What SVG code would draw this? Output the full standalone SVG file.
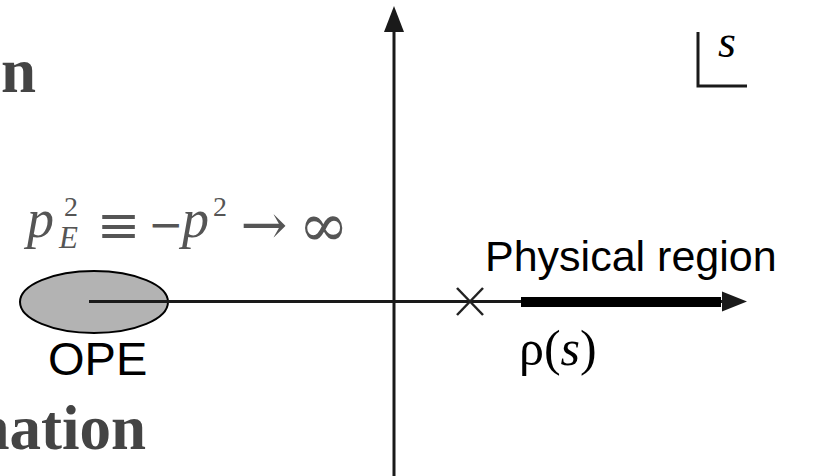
<svg xmlns="http://www.w3.org/2000/svg" width="825" height="476" viewBox="0 0 825 476">
<defs>
<style>
.ax{stroke:#1a1a1a;stroke-width:3;fill:none}
.hd{fill:#1a1a1a;stroke:none}
.ttl{font-family:"Liberation Serif",serif;font-weight:bold;fill:#444;font-size:63px}
.sans{font-family:"Liberation Sans",Arial,sans-serif;fill:#000}
.ser{font-family:"Liberation Serif","Times New Roman",serif;fill:#000}
.math{font-family:"Liberation Serif","DejaVu Serif",serif;fill:#555}
.sym{font-family:"DejaVu Serif",serif;fill:#555}
</style>
</defs>
<rect width="825" height="476" fill="#fff"/>
<g id="title-fragments">
<text class="ttl" x="1" y="92">n</text>
<text class="ttl" x="146" y="449" text-anchor="end">nation</text>
</g>
<g id="ope">
<ellipse cx="94" cy="302" rx="74" ry="31" fill="#b3b3b3" stroke="#000" stroke-width="2"/>
<text class="sans" x="48" y="375" font-size="47">OPE</text>
</g>
<g id="connectors">
<line class="ax" x1="394" y1="476" x2="394" y2="28"/>
<polygon class="hd" points="394,6 384,32 404,32"/>
<line class="ax" x1="89" y1="301.5" x2="724" y2="301.5"/>
<polygon class="hd" points="722,291.5 747,301.5 722,311.5"/>
</g>
<g id="physical-region">
<rect x="521" y="297" width="200" height="10" fill="#000"/>
<text class="sans" x="485" y="270.5" font-size="43">Physical region</text>
<text class="ser" x="519" y="365" font-size="50">ρ(<tspan font-style="italic">s</tspan>)</text>
</g>
<g id="pole">
<line x1="457" y1="288" x2="483" y2="315" stroke="#222" stroke-width="2.5"/>
<line x1="457" y1="315" x2="483" y2="288" stroke="#222" stroke-width="2.5"/>
</g>
<g id="formula">
<text class="math" x="27" y="237" font-size="54" font-style="italic">p</text>
<text class="math" x="64" y="216" font-size="28">2</text>
<text class="math" x="59" y="248" font-size="31" font-style="italic">E</text>
<text class="sym" x="118.5" y="242.5" font-size="52" text-anchor="middle">≡</text>
<text class="sym" x="165.5" y="239" font-size="42" text-anchor="middle">−</text>
<text class="math" x="182" y="237" font-size="54" font-style="italic">p</text>
<text class="math" x="213" y="216" font-size="28">2</text>
<text class="sym" x="264" y="244" font-size="56" text-anchor="middle">→</text>
<text class="sym" x="323.5" y="245.5" font-size="60" text-anchor="middle">∞</text>
</g>
<g id="s-label">
<path class="ax" d="M698,32 V86 H747" stroke-width="3.5"/>
<text class="ser" x="718" y="57" font-size="46" font-style="italic">s</text>
</g>
</svg>
